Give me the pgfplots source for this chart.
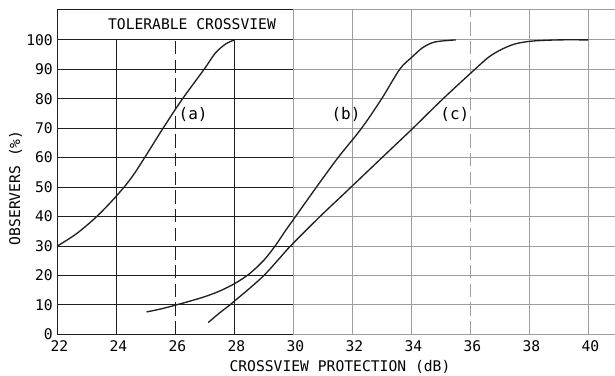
\documentclass[border=0pt]{standalone}
\usepackage{fontspec}
\setmainfont{DejaVu Sans Mono}
\usepackage{pgfplots}
\pgfplotsset{compat=1.18}

\definecolor{ink}{gray}{0.12}
\definecolor{faint}{gray}{0.62}

\begin{document}
\begin{tikzpicture}
\begin{axis}[
  at={(0,0)}, anchor=south west,
  scale only axis,
  width=418.1pt, height=243.75pt,
  xmin=22, xmax=40.9,
  ymin=0, ymax=110.4,
  axis x line=bottom, axis y line=left,
  axis line style={draw=none,-},
  xtick={22,24,...,40},
  ytick={0,10,...,100},
  major tick length=0pt,
  tick style={draw=none},
  font=\fontsize{11}{13}\selectfont,
  /pgf/number format/assume math mode=true,
  xticklabel style={yshift=-1pt, xshift=1.5pt},
  xlabel={CROSSVIEW PROTECTION (dB)},
  ylabel={OBSERVERS (\%)},
  xlabel style={at={(axis description cs:0.5067,-0.1015)}, anchor=center},
  ylabel style={at={(axis description cs:-0.0753,0.4508)}, anchor=center, rotate=0},
  clip=false,
]

% frame: dark on the left panel, lighter to the right
\draw[ink, line width=0.8pt] (axis cs:22,0) -- (axis cs:22,110.4);
\draw[ink, line width=0.8pt] (axis cs:22,110.4) -- (axis cs:30,110.4);
\draw[faint, line width=0.8pt] (axis cs:30,110.4) -- (axis cs:40.9,110.4);
\draw[ink, line width=0.8pt] (axis cs:22,0) -- (axis cs:30,0);
\draw[faint, line width=0.8pt] (axis cs:30,0) -- (axis cs:40.9,0);

% horizontal grid
\pgfplotsinvokeforeach{10,20,...,100}{
  \draw[ink, line width=0.6pt] (axis cs:22,#1) -- (axis cs:30,#1);
  \draw[faint, line width=0.7pt] (axis cs:30,#1) -- (axis cs:40.9,#1);
}
% vertical grid
\pgfplotsinvokeforeach{24,28}{
  \draw[ink, line width=0.6pt] (axis cs:#1,0) -- (axis cs:#1,100);
}
\draw[ink, line width=0.6pt, dash pattern=on 10pt off 4pt] (axis cs:26,0) -- (axis cs:26,100);
\pgfplotsinvokeforeach{30,32,34,38,40}{
  \draw[faint, line width=0.7pt] (axis cs:#1,0) -- (axis cs:#1,110.4);
}
\draw[faint, line width=0.7pt, dash pattern=on 10pt off 4pt] (axis cs:36,0) -- (axis cs:36,110.4);

% (a)
\addplot[ink, line width=1pt, smooth, tension=0.5] coordinates {
  (22,30) (22.65,34.2) (23.33,40) (24,47) (24.6,54.5)
  (25.58,70) (26.24,80) (26.97,90) (27.35,95.5) (27.7,98.6) (28,100)
};
% (b)
\addplot[ink, line width=1pt, smooth, tension=0.5] coordinates {
  (25.02,7.6) (25.5,8.6) (26,9.9) (26.5,11.3) (27,12.8) (27.5,14.7)
  (28,17.2) (28.5,20.5) (29,25.2) (29.4,30.3) (29.75,35.5) (30.07,40)
  (30.78,50) (31.51,60) (32.31,70) (32.99,80) (33.6,90) (34.0,94)
  (34.4,97.5) (34.8,99.3) (35.5,100)
};
% (c)
\addplot[ink, line width=1pt, smooth, tension=0.5] coordinates {
  (27.11,4) (27.5,7.3) (27.85,10) (28,11.3) (28.5,15.5) (29,20)
  (29.5,25.5) (29.9,30) (30.9,40) (31.9,49.5) (33,60) (34.05,70)
  (35.07,80) (36.15,90) (36.6,94) (37,96.5) (37.5,98.6) (38.1,99.6)
  (39,100) (40,100)
};

\node[font=\fontsize{11}{13}\selectfont] at (axis cs:26.56,105.5) {TOLERABLE CROSSVIEW};
\node[font=\fontsize{12}{14}\selectfont] at (axis cs:26.6,74.5) {(a)};
\node[font=\fontsize{12}{14}\selectfont] at (axis cs:31.78,74.8) {(b)};
\node[font=\fontsize{12}{14}\selectfont] at (axis cs:35.47,74.8) {(c)};
\end{axis}
\pgfresetboundingbox
\useasboundingbox (-43.1pt,-30.75pt) rectangle (418.1pt,250.7pt);
\end{tikzpicture}
\end{document}
